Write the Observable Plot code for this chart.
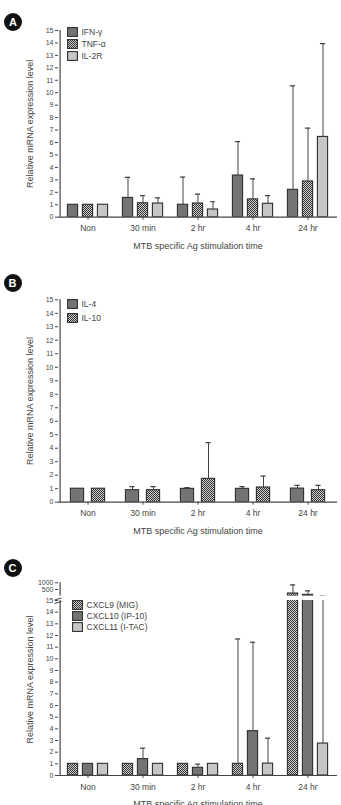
<!DOCTYPE html>
<html><head><meta charset="utf-8">
<script src="https://cdn.jsdelivr.net/npm/d3@7"></script>
<script src="https://cdn.jsdelivr.net/npm/@observablehq/plot@0.6"></script>
<style>
body{margin:0;background:#fff;font-family:"Liberation Sans",Arial,sans-serif;}
#wrap{position:relative;width:341px;height:805px;overflow:hidden;}
.pane{position:absolute;left:0;}
.letter{position:absolute;width:18px;height:18px;margin:-9px 0 0 -9px;border-radius:50%;background:#111;color:#fff;font:bold 11px "Liberation Sans",Arial,sans-serif;display:flex;align-items:center;justify-content:center;}
.lrow{position:absolute;display:flex;align-items:center;white-space:nowrap;font-size:8.5px;color:#444;height:10px;margin-top:-5px;}
.lrow svg{margin-right:4px;}
.brk{position:absolute;left:53px;top:592px;}
</style></head>
<body>
<svg width="0" height="0" style="position:absolute"><defs>
<pattern id="chk" width="2" height="2" patternUnits="userSpaceOnUse">
<rect width="2" height="2" fill="#cfcfcf"/><rect width="1" height="1" fill="#333"/><rect x="1" y="1" width="1" height="1" fill="#333"/>
</pattern></defs></svg>
<div id="wrap"></div>
<script>
// ---------- data ----------
const cats = ["Non", "30 min", "2 hr", "4 hr", "24 hr"];
const yTicks = [0,1,2,3,4,5,6,7,8,9,10,11,12,13,14,15];
const yTicksUpper = [500, 1000];
const xTitle = "MTB specific Ag stimulation time";
const yTitle = "Relative mRNA expression level";

// Panel A
const seriesA = ["IFN-γ", "TNF-α", "IL-2R"];
const ifnMean  = [1, 1.55, 1.0, 3.35, 2.2];
const ifnErr   = [null, 3.2, 3.22, 6.07, 10.55];
const tnfMean  = [1, 1.12, 1.1, 1.43, 2.87];
const tnfErr   = [null, 1.73, 1.85, 3.08, 7.15];
const il2rMean = [1, 1.1, 0.62, 1.08, 6.45];
const il2rErr  = [null, 1.55, 1.24, 1.73, 13.95];

// Panel B
const seriesB = ["IL-4", "IL-10"];
const il4Mean  = [1, 0.89, 0.99, 0.99, 1.01];
const il4Err   = [null, 1.16, 1.09, 1.16, 1.24];
const il10Mean = [1, 0.89, 1.73, 1.09, 0.89];
const il10Err  = [null, 1.16, 4.42, 1.93, 1.24];

// Panel C
const seriesC = ["CXCL9 (MIG)", "CXCL10 (IP-10)", "CXCL11 (I-TAC)"];
const cxcl9Mean  = [1, 1, 1, 1, 200];
const cxcl9Err   = [null, null, null, 11.7, 850];
const cxcl10Mean = [1, 1.4, 0.66, 3.8, 100];
const cxcl10Err  = [null, 2.34, 0.97, 11.42, 400];
const cxcl11Mean = [1, 1, 1, 1.02, 2.74];
const cxcl11Err  = [null, null, null, 3.2, 20];

// ---------- styles ----------
const DARK = "#747474", LIGHT = "#c6c6c6", CHK = "url(#chk)";
const INK = "#444";
const W = 341, ML = 58, MR = 4;
const wrap = document.getElementById("wrap");

function panel({top, height, marginTop, marginBottom, yDomain, ticks, series, offsets, barW, showX, yDy}) {
  const bw = (W - ML - MR) / cats.length;
  const lo = yDomain[0];
  const marks = [];
  series.forEach((s, k) => {
    const off = offsets[k];
    const rows = cats.map((c, i) => ({cat: c, value: s.mean[i], err: s.err[i]})).filter(d => d.value > lo);
    marks.push(Plot.barY(rows, {x: "cat", y: "value", fill: s.fill, stroke: "#2e2e2e", strokeWidth: 1.1,
      insetLeft: bw / 2 + off - barW / 2, insetRight: bw / 2 - off - barW / 2, clip: true}));
  });
  series.forEach((s, k) => {
    const off = offsets[k];
    const rows = cats.map((c, i) => ({cat: c, value: s.mean[i], err: s.err[i]})).filter(d => d.err != null && d.err > lo);
    marks.push(Plot.ruleX(rows, {x: "cat", y1: "value", y2: "err", dx: off, stroke: INK, strokeWidth: 1, clip: true}));
    marks.push(Plot.tickY(rows, {x: "cat", y: "err", stroke: INK, strokeWidth: 1.2,
      insetLeft: bw / 2 + off - 3, insetRight: bw / 2 - off - 3, clip: true}));
  });
  marks.push(Plot.ruleX([cats[0]], {dx: -bw / 2, stroke: INK, strokeWidth: 1.2}));
  marks.push(Plot.axisY({ticks, tickSize: 3, tickPadding: 2, fontSize: 7, label: null, tickFormat: d => String(d)}));
  if (showX) {
    marks.push(Plot.ruleY([lo], {stroke: INK, strokeWidth: 1.2}));
    marks.push(Plot.axisX({tickSize: 3, tickPadding: 5, fontSize: 8.5, label: null}));
    marks.push(Plot.text([xTitle], {frameAnchor: "bottom", dy: 32, fontSize: 9, fill: INK, text: d => d}));
    marks.push(Plot.text([yTitle], {frameAnchor: "left", textAnchor: "middle", rotate: -90, dx: -28, dy: yDy || 0, fontSize: 9, fill: INK, text: d => d}));
  }
  const svg = Plot.plot({
    width: W, height, marginLeft: ML, marginRight: MR, marginTop, marginBottom,
    x: {domain: cats, padding: 0, axis: showX ? undefined : null},
    y: {domain: yDomain},
    style: {background: "transparent", overflow: "visible", color: INK, fontFamily: "Liberation Sans, Arial, sans-serif"},
    marks
  });
  const div = document.createElement("div");
  div.className = "pane";
  div.style.top = top + "px";
  div.appendChild(svg);
  wrap.appendChild(div);
}

function letter(ch, x, y) {
  const d = document.createElement("div");
  d.className = "letter"; d.textContent = ch;
  d.style.left = x + "px"; d.style.top = y + "px";
  wrap.appendChild(d);
}

function legend(names, fills, x0, y0, step) {
  names.forEach((n, i) => {
    const r = document.createElement("div");
    r.className = "lrow";
    r.style.left = x0 + "px"; r.style.top = (y0 + i * step) + "px";
    r.innerHTML = `<svg width="11" height="10"><rect x="0.6" y="0.6" width="9.8" height="8.8" fill="${fills[i]}" stroke="#2e2e2e" stroke-width="1.1"/></svg><span>${n}</span>`;
    wrap.appendChild(r);
  });
}

// Panel A
panel({top: 0, height: 260, marginTop: 30, marginBottom: 43.3, yDomain: [0, 15], ticks: yTicks,
  series: [{mean: ifnMean, err: ifnErr, fill: DARK}, {mean: tnfMean, err: tnfErr, fill: CHK}, {mean: il2rMean, err: il2rErr, fill: LIGHT}],
  offsets: [-15, 0, 15], barW: 11, showX: true});
letter("A", 13, 21.5);
legend(seriesA, [DARK, CHK, LIGHT], 66.5, 32.3, 12);

// Panel B
panel({top: 270, height: 275, marginTop: 29.3, marginBottom: 43.3, yDomain: [0, 15], ticks: yTicks,
  series: [{mean: il4Mean, err: il4Err, fill: DARK}, {mean: il10Mean, err: il10Err, fill: CHK}],
  offsets: [-10.5, 10.5], barW: 14, showX: true});
letter("B", 12.5, 283);
legend(seriesB, [DARK, CHK], 66.5, 304.3, 13.4);

// Panel C (broken axis: upper and lower segments)
panel({top: 565, height: 30.5, marginTop: 17.3, marginBottom: 0, yDomain: [15, 1000], ticks: yTicksUpper,
  series: [{mean: cxcl9Mean, err: cxcl9Err, fill: CHK}, {mean: cxcl10Mean, err: cxcl10Err, fill: DARK}, {mean: cxcl11Mean, err: cxcl11Err, fill: LIGHT}],
  offsets: [-15, 0, 15], barW: 11, showX: false});
panel({top: 590, height: 228.3, marginTop: 10, marginBottom: 43.3, yDomain: [0, 15], ticks: yTicks,
  series: [{mean: cxcl9Mean, err: cxcl9Err, fill: CHK}, {mean: cxcl10Mean, err: cxcl10Err, fill: DARK}, {mean: cxcl11Mean, err: cxcl11Err, fill: LIGHT}],
  offsets: [-15, 0, 15], barW: 11, showX: true, yDy: -8.5});
letter("C", 12.5, 568);
legend(seriesC, [CHK, DARK, LIGHT], 71.5, 605, 11);

// axis-break marks on panel C's y axis
const brk = document.createElement("div");
brk.className = "brk";
brk.innerHTML = '<svg width="10" height="10"><line x1="1.5" y1="4" x2="8.5" y2="2" stroke="#444" stroke-width="1"/><line x1="1.5" y1="7.5" x2="8.5" y2="5.5" stroke="#444" stroke-width="1"/></svg>';
wrap.appendChild(brk);
</script>
</body></html>
